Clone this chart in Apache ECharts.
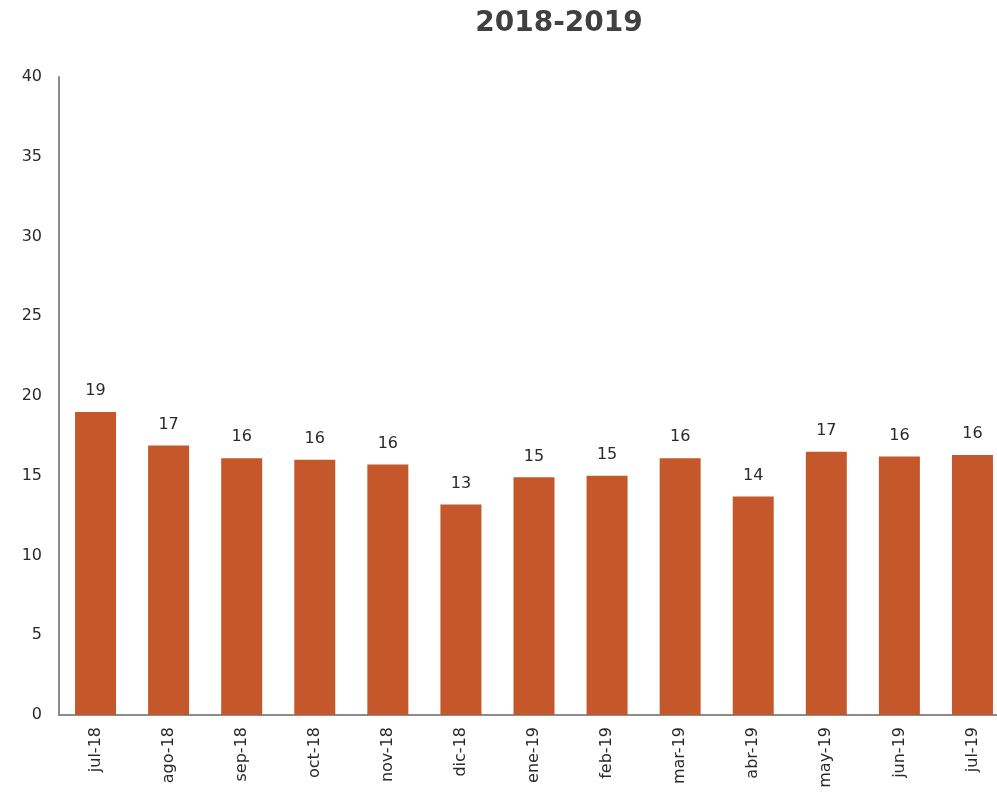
<!DOCTYPE html>
<html>
<head>
<meta charset="utf-8">
<script src="https://cdn.jsdelivr.net/npm/echarts@6/dist/echarts.min.js"></script>
<style>
  html, body { margin: 0; padding: 0; background: #fff; overflow: hidden; }
  #chart { width: 1009px; height: 793px; }
</style>
</head>
<body>
<div id="chart"></div>
<script>
const categories = ["jul-18", "ago-18", "sep-18", "oct-18", "nov-18", "dic-18", "ene-19", "feb-19", "mar-19", "abr-19", "may-19", "jun-19", "jul-19"];
const values = [19.0, 16.9, 16.1, 16.0, 15.7, 13.2, 14.9, 15.0, 16.1, 13.7, 16.5, 16.2, 16.3];
const yTicks = { min: 0, max: 40, interval: 5 };

const font = "'DejaVu Sans', sans-serif";
const chart = echarts.init(document.getElementById("chart"));

// plot runs a little past the right edge of the 997px window, like the original
chart.setOption({
  animation: false,
  backgroundColor: "#ffffff",
  title: {
    text: "2018-2019",
    left: 554, top: 5, textAlign: "center",
    textStyle: { fontFamily: font, fontSize: 28, fontWeight: "bold", color: "#404040" }
  },
  grid: { left: 59, right: 0, top: 77, bottom: 78, containLabel: false },
  xAxis: {
    type: "category",
    data: categories,
    axisLine: { lineStyle: { color: "#8c8c8c", width: 2 } },
    axisTick: { show: false },
    axisLabel: { rotate: 90, margin: 12, fontFamily: font, fontSize: 16, color: "#2a2a2a" }
  },
  yAxis: {
    type: "value",
    min: yTicks.min, max: yTicks.max, interval: yTicks.interval,
    axisLine: { show: true, lineStyle: { color: "#8c8c8c", width: 2 } },
    axisTick: { show: false },
    splitLine: { show: false },
    axisLabel: { margin: 17, fontFamily: font, fontSize: 16, color: "#2a2a2a" }
  },
  series: [{
    type: "bar",
    data: values,
    barWidth: 41,
    itemStyle: { color: "#c4582a" },
    label: {
      show: true, position: "top", distance: 13,
      fontFamily: font, fontSize: 16, color: "#2a2a2a",
      formatter: (p) => Math.round(p.value)
    }
  }]
});
</script>
</body>
</html>
